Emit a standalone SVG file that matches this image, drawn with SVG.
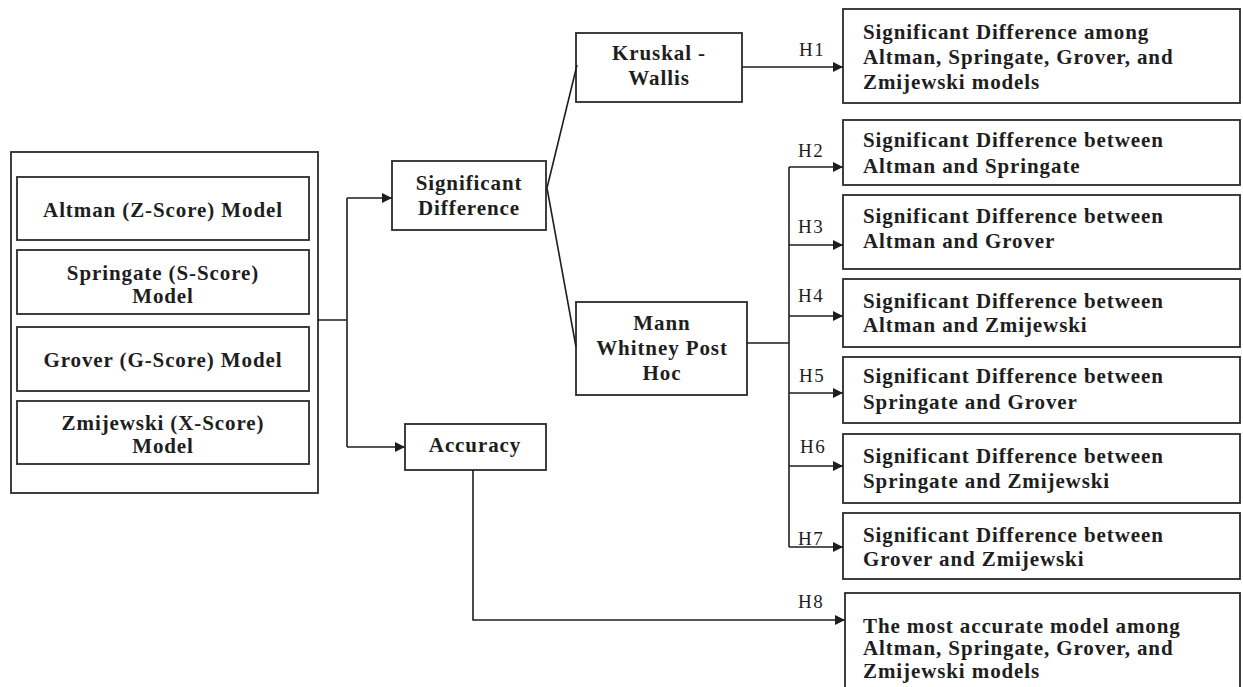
<svg xmlns="http://www.w3.org/2000/svg" width="1243" height="687" viewBox="0 0 1243 687">
<style>
.box{fill:#fff;stroke:#2b2b2b;stroke-width:1.8}
.t{font-family:"Liberation Serif","Times New Roman",serif;font-weight:bold;font-size:21px;fill:#1e1e1e;letter-spacing:0.9px}
.c{text-anchor:middle}
.h{font-family:"Liberation Serif","Times New Roman",serif;font-size:19px;fill:#1e1e1e;letter-spacing:1.5px}
.ln{fill:none;stroke:#1e1e1e;stroke-width:1.6}
</style>
<defs>
<marker id="ah" viewBox="0 0 10 10" refX="10" refY="5" markerWidth="12" markerHeight="10" markerUnits="userSpaceOnUse" orient="auto">
<path d="M0,0 L10,5 L0,10 z" fill="#1e1e1e"/>
</marker>
</defs>

<g id="models">
<rect class="box" x="11" y="152" width="307" height="341"/>
<g id="altman"><rect class="box" x="17" y="177" width="292" height="63"/><text class="t c" x="163" y="217">Altman (Z-Score) Model</text></g>
<g id="springate"><rect class="box" x="17" y="250" width="292" height="64"/><text class="t c" x="163" y="280">Springate (S-Score)</text><text class="t c" x="163" y="303">Model</text></g>
<g id="grover"><rect class="box" x="17" y="327" width="292" height="64"/><text class="t c" x="163" y="367">Grover (G-Score) Model</text></g>
<g id="zmijewski"><rect class="box" x="17" y="401" width="292" height="63"/><text class="t c" x="163" y="430">Zmijewski (X-Score)</text><text class="t c" x="163" y="453">Model</text></g>
</g>

<g id="sigdiff"><rect class="box" x="392" y="161" width="154" height="69"/><text class="t c" x="469" y="190">Significant</text><text class="t c" x="469" y="215">Difference</text></g>
<g id="accuracy"><rect class="box" x="405" y="424" width="141" height="46"/><text class="t c" x="475" y="452">Accuracy</text></g>
<g id="kruskal"><rect class="box" x="576" y="33" width="166" height="69"/><text class="t c" x="659" y="60">Kruskal -</text><text class="t c" x="659" y="85">Wallis</text></g>
<g id="mann"><rect class="box" x="576" y="302" width="171" height="93"/><text class="t c" x="662" y="330">Mann</text><text class="t c" x="662" y="355">Whitney Post</text><text class="t c" x="662" y="380">Hoc</text></g>

<g id="h1"><rect class="box" x="843" y="9" width="397" height="94"/><text class="t" x="863" y="39">Significant Difference among</text><text class="t" x="863" y="64">Altman, Springate, Grover, and</text><text class="t" x="863" y="89">Zmijewski models</text></g>
<g id="h2"><rect class="box" x="843" y="120" width="397" height="65"/><text class="t" x="863" y="147">Significant Difference between</text><text class="t" x="863" y="173">Altman and Springate</text></g>
<g id="h3"><rect class="box" x="843" y="195" width="397" height="74"/><text class="t" x="863" y="223">Significant Difference between</text><text class="t" x="863" y="248">Altman and Grover</text></g>
<g id="h4"><rect class="box" x="843" y="279" width="397" height="68"/><text class="t" x="863" y="308">Significant Difference between</text><text class="t" x="863" y="332">Altman and Zmijewski</text></g>
<g id="h5"><rect class="box" x="843" y="357" width="397" height="66"/><text class="t" x="863" y="383">Significant Difference between</text><text class="t" x="863" y="409">Springate and Grover</text></g>
<g id="h6"><rect class="box" x="843" y="434" width="397" height="69"/><text class="t" x="863" y="463">Significant Difference between</text><text class="t" x="863" y="488">Springate and Zmijewski</text></g>
<g id="h7"><rect class="box" x="843" y="513" width="397" height="66"/><text class="t" x="863" y="542">Significant Difference between</text><text class="t" x="863" y="566">Grover and Zmijewski</text></g>
<g id="h8"><rect class="box" x="845" y="593" width="395" height="110"/><text class="t" x="863" y="633">The most accurate model among</text><text class="t" x="863" y="655">Altman, Springate, Grover, and</text><text class="t" x="863" y="678">Zmijewski models</text></g>

<g id="connectors">
<path class="ln" d="M318,320 H347 M347,198 V447"/>
<path class="ln" d="M347,198 H392" marker-end="url(#ah)"/>
<path class="ln" d="M347,447 H405" marker-end="url(#ah)"/>
<path class="ln" d="M547,188 L577,65 M547,188 L576,347"/>
<path class="ln" d="M742,67 H843" marker-end="url(#ah)"/>
<path class="ln" d="M747,343 H789 M789,167 V547"/>
<path class="ln" d="M789,167 H843" marker-end="url(#ah)"/>
<path class="ln" d="M789,245 H843" marker-end="url(#ah)"/>
<path class="ln" d="M789,316 H843" marker-end="url(#ah)"/>
<path class="ln" d="M789,393 H843" marker-end="url(#ah)"/>
<path class="ln" d="M789,466 H843" marker-end="url(#ah)"/>
<path class="ln" d="M789,547 H843" marker-end="url(#ah)"/>
<path class="ln" d="M473,470 V620 H845" marker-end="url(#ah)"/>
<text class="h" x="799" y="56">H1</text>
<text class="h" x="798" y="157">H2</text>
<text class="h" x="798" y="233">H3</text>
<text class="h" x="798" y="302">H4</text>
<text class="h" x="799" y="382">H5</text>
<text class="h" x="800" y="453">H6</text>
<text class="h" x="798" y="545">H7</text>
<text class="h" x="798" y="608">H8</text>
</g>
</svg>
